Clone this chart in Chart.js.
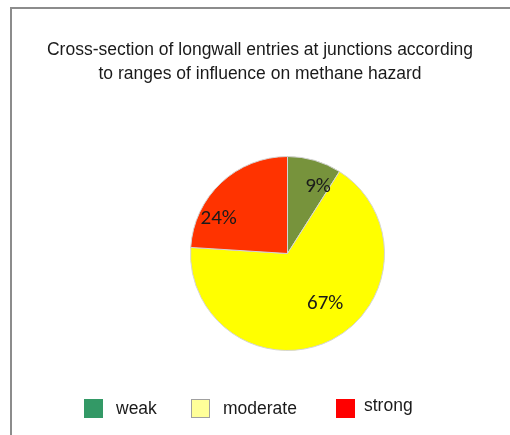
<!DOCTYPE html>
<html>
<head>
<meta charset="utf-8">
<script src="https://cdn.jsdelivr.net/npm/chart.js@4"></script>
<style>
  html, body { margin: 0; padding: 0; background: #fff; overflow: hidden; }
  #frame {
    position: absolute; left: 10px; top: 7px; width: 510px; height: 440px;
    border-left: 2px solid #8c8c8c; border-top: 2px solid #8c8c8c;
  }
  #pie { position: absolute; left: 0; top: 0; }
</style>
</head>
<body>
<div id="frame"></div>
<canvas id="pie" width="510" height="435"></canvas>
<script>
// data
const categories = ['weak', 'moderate', 'strong'];
const shares = [9, 67, 24];
const sliceColors = ['#77933C', '#FFFF00', '#FF3300'];
const legendColors = ['#339966', '#FFFF99', '#FF0000'];
const titleLines = ['Cross-section of longwall entries at junctions according',
                    'to ranges of influence on methane hazard'];

// draws title, legend and percent labels
const extras = {
  id: 'extras',
  afterDatasetsDraw(chart) {
    const ctx = chart.ctx;
    const arcs = chart.getDatasetMeta(0).data;
    const nudge = [[11, 0], [6, -12], [-21, 16]];
    ctx.save();
    ctx.font = '21px Carlito, Lato, sans-serif';
    ctx.fillStyle = '#1a1a1a';
    ctx.textAlign = 'center';
    ctx.textBaseline = 'middle';
    arcs.forEach((arc, i) => {
      const p = arc.getProps(['x', 'y', 'startAngle', 'endAngle', 'outerRadius'], true);
      const mid = (p.startAngle + p.endAngle) / 2;
      const r = p.outerRadius * 0.72;
      ctx.fillText(shares[i] + '%', p.x + Math.cos(mid) * r + nudge[i][0], p.y + Math.sin(mid) * r + nudge[i][1]);
    });
    ctx.restore();
  },
  afterDraw(chart) {
    const ctx = chart.ctx;
    ctx.save();
    ctx.fillStyle = '#1a1a1a';
    ctx.font = '17.5px "Liberation Sans", Arial, sans-serif';
    ctx.textAlign = 'center';
    ctx.textBaseline = 'middle';
    ctx.fillText(titleLines[0], 260, 50);
    ctx.fillText(titleLines[1], 260, 74);

    // legend
    const boxX = [84, 191, 336];
    const textX = [116, 223, 364];
    ctx.font = '17.5px "Liberation Sans", Arial, sans-serif';
    ctx.textAlign = 'left';
    categories.forEach((c, i) => {
      ctx.fillStyle = legendColors[i];
      ctx.fillRect(boxX[i], 399, 19, 19);
      if (i === 1) {
        ctx.strokeStyle = '#a0a0a0';
        ctx.lineWidth = 1;
        ctx.strokeRect(boxX[i] + 0.5, 399.5, 18, 18);
      }
      ctx.fillStyle = '#1a1a1a';
      ctx.fillText(c, textX[i], i === 2 ? 406 : 409);
    });
    ctx.restore();
  }
};

const ctx = document.getElementById('pie').getContext('2d');
const pieChart = new Chart(ctx, {
  type: 'pie',
  data: {
    labels: categories,
    datasets: [{
      data: shares,
      backgroundColor: sliceColors,
      borderColor: '#d4d4d4',
      borderWidth: 1
    }]
  },
  options: {
    responsive: false,
    animation: false,
    layout: { padding: { left: 190, right: 125, top: 156, bottom: 84 } },
    plugins: {
      legend: { display: false },
      title: { display: false },
      tooltip: { enabled: false }
    }
  },
  plugins: [extras]
});
</script>
</body>
</html>
